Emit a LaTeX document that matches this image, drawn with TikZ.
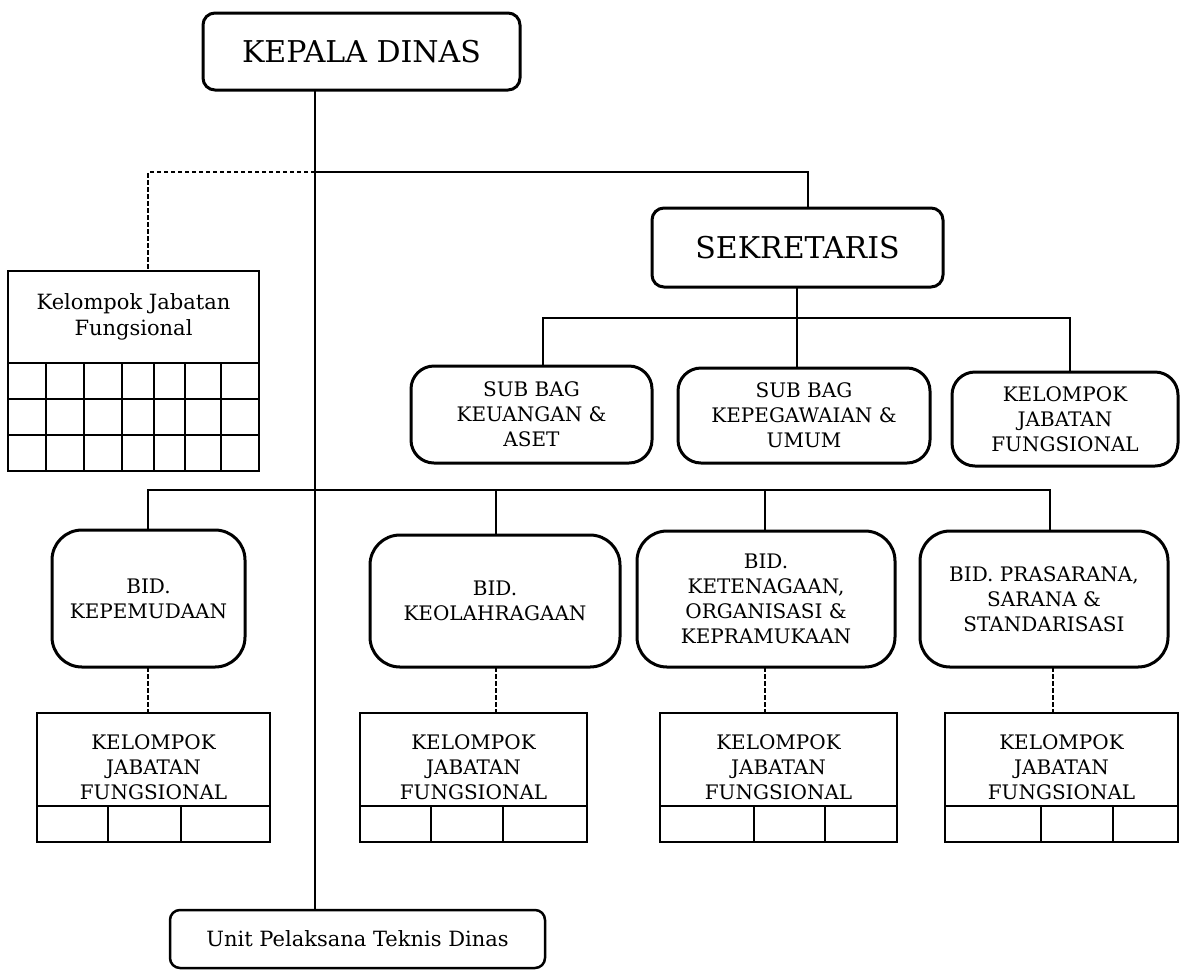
\documentclass[tikz,border=0pt]{standalone}
\usepackage{fontspec}
\setmainfont{DejaVu Serif}
\usetikzlibrary{positioning}

\newcommand{\bigfont}{\fontsize{30}{36}\selectfont}
\newcommand{\smallfont}{\fontsize{20}{25}\selectfont}
\newcommand{\lowfont}{\fontsize{21}{26}\selectfont}

\begin{document}
\begin{tikzpicture}
[x=1pt, y=-1pt,
    line width=1.6pt,
    every node/.style={outer sep=0pt},
    bigbox/.style={draw, line width=3pt, rounded corners=12pt,
    font=\bigfont, inner sep=0pt},
    subbox/.style={draw, line width=3pt, rounded corners=23pt,
    font=\smallfont, align=center, inner sep=0pt},
    bidbox/.style={subbox, rounded corners=30pt},
    kjfbox/.style={draw, line width=2.2pt, font=\smallfont,
    align=center, inner sep=0pt},
    kjftext/.style={font=\smallfont, align=center, inner sep=0pt},
    gridbox/.style={draw, line width=2.2pt, inner sep=0pt},
    unitbox/.style={draw, line width=2.5pt, rounded corners=10pt,
    font=\lowfont, inner sep=0pt},
    dashline/.style={dash pattern=on 4.5pt off 2.5pt},
    ]
    \useasboundingbox (0,0) rectangle (1180,970);

    % pimpinan
    \node[bigbox, minimum width=317pt, minimum height=77pt] (kadis) at (361.5,51.5) {KEPALA DINAS};
    \node[bigbox, minimum width=291pt, minimum height=79pt] (sekr) at (797.5,247.5) {SEKRETARIS};

    % sub bagian
    \node[subbox, minimum width=241pt, minimum height=97pt] (sb1) at (531.5,414.5) {SUB BAG\\KEUANGAN \&\\ASET};
    \node[subbox, minimum width=252pt, minimum height=95pt] (sb2) at (804,415.5) {SUB BAG\\KEPEGAWAIAN \&\\UMUM};
    \node[subbox, minimum width=226pt, minimum height=94pt] (kjfr) at (1065,419) {KELOMPOK\\JABATAN\\FUNGSIONAL};

    % kelompok jabatan fungsional (kiri)
    \node[kjfbox, font=\lowfont, minimum width=251pt, minimum height=92pt] (kjfl) at (133.5,317) {Kelompok Jabatan\\Fungsional};
    \node[gridbox, minimum width=251pt, minimum height=108pt, anchor=north] (kjflg) at (kjfl.south) {};
    \foreach \gx in {46,84,122,154,185,221}
        \draw[line width=2.2pt] (kjflg.north -| \gx,0) -- (kjflg.south -| \gx,0);
    \foreach \gy in {399,435}
        \draw[line width=2.2pt] (kjflg.west |- 0,\gy) -- (kjflg.east |- 0,\gy);

    % bidang
    \node[bidbox, minimum width=193pt, minimum height=137pt] (bid1) at (148.5,598.5) {BID.\\KEPEMUDAAN};
    \node[bidbox, minimum width=250pt, minimum height=132pt] (bid2) at (495,601) {BID.\\KEOLAHRAGAAN};
    \node[bidbox, minimum width=258pt, minimum height=136pt] (bid3) at (766,599) {BID.\\KETENAGAAN,\\ORGANISASI \&\\KEPRAMUKAAN};
    \node[bidbox, minimum width=248pt, minimum height=136pt] (bid4) at (1044,599) {BID. PRASARANA,\\SARANA \&\\STANDARISASI};

    % kelompok jabatan fungsional per bidang
    \foreach \n/\cx/\w/\da/\db in {1/153.5/233/108/181, 2/473.5/227/431/503,
                                   3/778.5/237/754/825, 4/1061.5/233/1041/1113} {
        \node[kjfbox, minimum width=\w pt, minimum height=93pt] (kjf\n) at (\cx,759.5) {};
        \node[kjftext] (kjftext\n) at ([yshift=-8pt]kjf\n.center) {KELOMPOK\\JABATAN\\FUNGSIONAL};
        \node[gridbox, minimum width=\w pt, minimum height=36pt, anchor=north] (row\n) at (kjf\n.south) {};
        \draw[line width=2.2pt] (row\n.north -| \da,0) -- (row\n.south -| \da,0);
        \draw[line width=2.2pt] (row\n.north -| \db,0) -- (row\n.south -| \db,0);
    }

    \node[unitbox, minimum width=375pt, minimum height=58pt] (unit) at (357.5,939) {Unit Pelaksana Teknis Dinas};

    % garis
    \coordinate (trunk) at (315,172);
    \coordinate (kjfdrop) at (148,172);
    \coordinate (sekrtop) at (808,172);
    \coordinate (subbus) at (797,318);
    \coordinate (bidbus) at (315,490);

    \draw (kadis.south -| trunk) -- (unit.north -| trunk);
    \draw[dashline] (trunk) -- (kjfdrop) -- (kjfdrop |- kjfl.north);
    \draw (trunk) -- (sekrtop) -- (sekrtop |- sekr.north);

    \draw (sekr.south -| subbus) -- (subbus);
    \draw (sb1.north -| 543,0) |- (subbus) -| (kjfr.north -| 1070,0);
    \draw (subbus) -- (sb2.north -| subbus);

    \draw (bid1.north -| 148,0) |- (bidbus) -| (bid4.north -| 1050,0);
    \draw (bid2.north -| 496,0) -- (496,490);
    \draw (bid3.north -| 765,0) -- (765,490);

    \foreach \n/\dx in {1/148, 2/496, 3/765, 4/1053}
        \draw[dashline] (bid\n.south -| \dx,0) -- (kjf\n.north -| \dx,0);

\end{tikzpicture}
\end{document}
